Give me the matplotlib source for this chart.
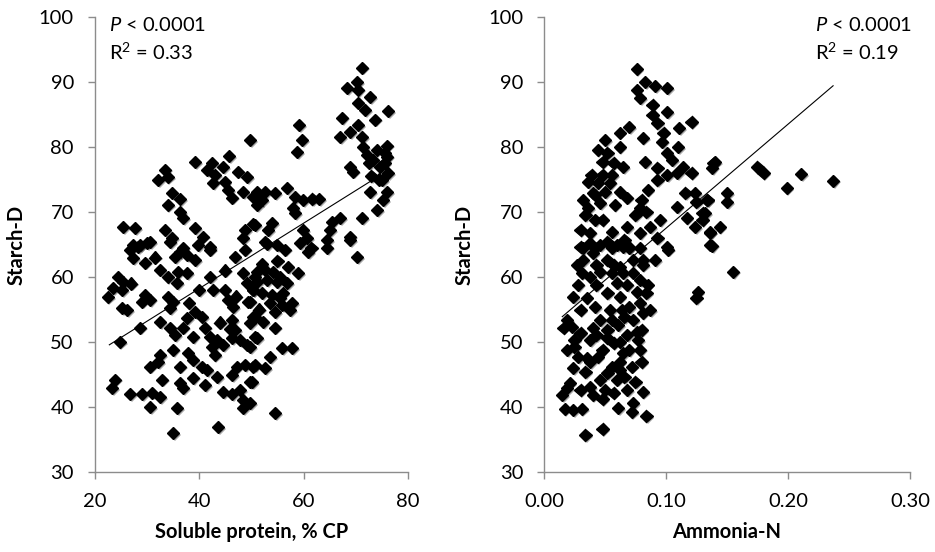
import matplotlib
matplotlib.use("Agg")
import matplotlib.pyplot as plt
import matplotlib.patheffects as pe

plt.rcParams['font.family'] = ['Lato', 'DejaVu Sans']
plt.rcParams['mathtext.fontset'] = 'custom'
plt.rcParams['mathtext.rm'] = 'Lato'
plt.rcParams['mathtext.it'] = 'Lato:italic'
plt.rcParams['mathtext.bf'] = 'Lato:bold'

# Panel izquierdo: proteina soluble (% CP) vs Starch-D
prot_x = [
    49.8, 39.2, 45.7, 42.5, 41.5, 43.0, 44.6, 47.5, 49.2, 42.7, 44.9, 45.5, 46.3, 48.4, 50.3, 51.1,
    33.5, 32.1, 34.0, 34.8, 36.3, 34.0, 36.3, 36.9, 39.2, 40.7, 25.4, 27.7, 33.5, 34.8, 48.8, 48.4,
    50.3, 27.3, 28.7, 30.6, 42.1, 36.9,
    26.8, 28.3, 30.0, 27.3, 34.4, 36.3, 35.4, 37.7, 39.2, 39.8, 42.1, 46.9, 48.8, 29.6, 32.5, 34.0,
    36.0, 37.7, 35.8, 42.1, 24.5, 25.4, 23.5, 25.2, 22.5, 29.6, 30.6, 29.1, 34.0, 35.0, 34.4, 25.2,
    26.2, 42.7, 44.9, 45.5, 46.5, 48.4, 49.2, 50.3, 49.4, 50.7, 28.7, 24.8, 32.5, 34.4, 35.4, 36.9,
    37.7, 39.2, 40.6, 38.8, 41.1, 42.1, 42.5, 43.4, 43.0, 44.6, 46.3, 46.9, 46.3, 47.8, 49.2, 50.7,
    49.8, 50.7, 32.5, 32.1, 30.6, 35.0, 36.3, 37.9, 38.8, 40.6, 41.5, 43.4, 38.8, 41.1, 36.3, 36.9,
    32.9, 23.9, 23.3, 26.8, 29.1, 31.0, 32.5, 30.6, 35.8, 44.6, 46.3, 47.8, 46.3, 49.8, 47.3, 48.8,
    50.3, 48.4, 48.4, 35.0, 43.6,
    71.2, 68.3, 70.3, 70.4, 72.7, 76.2, 70.4, 71.8, 73.7, 67.4, 70.4, 68.9, 67.0, 71.2, 71.4, 76.0,
    75.6, 72.2, 73.3, 74.7, 76.2, 75.0, 68.9, 69.5, 72.7, 76.0, 75.2, 74.1, 71.2, 59.1, 59.7, 58.8,
    56.8, 51.1, 52.6, 54.5, 52.1, 58.4, 59.9, 61.7, 58.0, 58.4, 50.7, 54.0, 53.2, 52.6, 54.9, 59.9,
    60.7, 65.5, 67.0, 65.1, 68.9, 64.5,
    53.0, 56.5, 59.3, 60.9, 64.5, 68.9, 70.3, 51.1, 52.6, 54.2, 55.5, 56.8, 58.9, 51.1, 53.0, 54.9,
    50.3, 52.1, 54.0, 55.5, 57.8, 55.9, 57.4, 54.5, 49.8, 50.3, 52.3, 54.5, 51.1, 49.8, 55.9, 57.8,
    53.6, 50.7, 52.6, 50.1, 54.5, 49.8,
    72.5, 74.0, 75.5, 76.0, 74.5, 73.0, 52.0, 55.0, 57.0, 53.5, 56.0, 51.5, 46.0, 44.0, 38.0, 40.0,
    47.0, 45.0, 31.5, 27.0, 61.5, 63.0,
]
prot_y = [
    81.1, 77.7, 78.6, 77.5, 76.5, 75.7, 76.9, 76.2, 75.4, 74.5, 74.6, 73.4, 72.2, 73.1, 72.3, 71.1,
    76.5, 74.9, 75.4, 72.9, 72.0, 71.1, 70.0, 69.1, 67.5, 66.2, 67.7, 67.5, 67.2, 66.0, 67.2, 66.0,
    68.2, 64.9, 64.9, 65.4, 64.6, 64.5,
    64.2, 64.6, 65.2, 62.9, 65.4, 63.8, 63.1, 63.4, 62.6, 64.9, 64.2, 63.1, 64.2, 62.2, 61.1, 60.0,
    60.8, 60.6, 59.1, 60.0, 60.0, 59.2, 58.3, 58.0, 56.9, 57.2, 56.5, 56.2, 56.9, 56.2, 55.2, 55.2,
    54.9, 58.0, 58.0, 56.5, 55.4, 60.6, 59.1, 58.0, 56.2, 60.0, 52.2, 50.0, 53.1, 52.2, 51.1, 52.2,
    53.7, 54.6, 53.8, 50.8, 52.2, 50.8, 49.2, 50.3, 48.0, 49.5, 53.4, 51.8, 50.6, 50.3, 49.5, 50.8,
    52.9, 53.8, 48.0, 46.9, 46.2, 48.8, 46.2, 48.3, 47.2, 46.2, 45.7, 44.6, 44.5, 43.4, 43.7, 42.9,
    44.2, 44.2, 42.9, 42.0, 42.0, 42.2, 41.5, 40.0, 39.8, 42.3, 42.0, 42.6, 44.9, 43.8, 46.2, 46.5,
    46.2, 41.1, 39.8, 36.0, 36.9,
    92.2, 89.1, 90.0, 88.8, 87.7, 85.5, 86.8, 85.7, 84.2, 84.5, 83.4, 82.3, 81.5, 81.5, 80.0, 80.2,
    79.1, 78.8, 78.0, 76.9, 76.0, 74.9, 76.9, 76.2, 73.1, 73.1, 71.8, 70.3, 69.1, 83.4, 81.1, 79.2,
    73.7, 73.1, 73.1, 72.9, 71.8, 72.3, 71.8, 72.0, 70.6, 69.8, 68.0, 68.3, 67.2, 65.4, 64.9, 67.2,
    66.0, 68.5, 69.1, 67.2, 66.2, 65.7,
    65.1, 64.2, 65.2, 63.8, 64.5, 65.7, 63.1, 60.8, 61.1, 60.8, 60.0, 59.1, 60.6, 59.2, 59.5, 59.2,
    58.0, 57.5, 57.2, 56.8, 56.0, 55.7, 54.9, 54.6, 56.2, 53.8, 53.1, 52.2, 50.6, 49.2, 49.1, 49.1,
    47.7, 46.5, 46.0, 43.8, 39.1, 40.6,
    77.5, 79.5, 77.5, 78.5, 75.0, 75.5, 62.0, 62.5, 61.5, 56.0, 57.5, 55.0, 52.0, 53.0, 56.0, 58.0,
    57.0, 61.0, 63.0, 59.0, 64.5, 72.0,
]

# Panel derecho: Ammonia-N vs Starch-D
amon_x = [
    0.076, 0.083, 0.091, 0.101, 0.076, 0.079, 0.089, 0.101, 0.089, 0.093, 0.121, 0.111, 0.070, 0.062,
    0.050, 0.081, 0.098, 0.097, 0.110, 0.062, 0.052, 0.101, 0.105, 0.083, 0.048, 0.057, 0.065, 0.093,
    0.114, 0.121, 0.139, 0.109, 0.101, 0.093, 0.039, 0.048, 0.044, 0.036, 0.054, 0.050, 0.040, 0.062,
    0.068, 0.085, 0.080, 0.032, 0.036, 0.046, 0.079, 0.084, 0.109, 0.116, 0.124, 0.125, 0.134, 0.117,
    0.124, 0.130, 0.136, 0.042, 0.030, 0.038, 0.056, 0.068, 0.087, 0.095, 0.079, 0.093, 0.030, 0.046,
    0.060, 0.070, 0.136, 0.101,
    0.138, 0.126, 0.125, 0.102, 0.091, 0.081, 0.034, 0.048, 0.084, 0.072, 0.061, 0.073, 0.081, 0.075,
    0.057, 0.048, 0.017, 0.024, 0.031, 0.015, 0.021, 0.038, 0.040, 0.024, 0.034, 0.028, 0.035, 0.044,
    0.056, 0.062, 0.072, 0.065, 0.057, 0.025, 0.025, 0.038, 0.052, 0.062, 0.070, 0.077, 0.080, 0.076,
    0.016, 0.023, 0.030, 0.040, 0.052, 0.061, 0.046, 0.066, 0.081, 0.024, 0.035, 0.042, 0.054, 0.070,
    0.079, 0.084, 0.076, 0.062, 0.052, 0.031, 0.038, 0.046, 0.056, 0.065, 0.073, 0.079, 0.060, 0.032,
    0.040, 0.052, 0.062, 0.073, 0.038, 0.052, 0.065, 0.046, 0.060, 0.066, 0.052, 0.019,
    0.140, 0.138, 0.175, 0.180, 0.211, 0.199, 0.237, 0.150, 0.150, 0.134, 0.132, 0.130, 0.144, 0.136,
    0.155,
    0.032, 0.042, 0.056, 0.070, 0.079, 0.027, 0.043, 0.057, 0.081, 0.028, 0.043, 0.068, 0.085, 0.030,
    0.064, 0.087, 0.019, 0.056, 0.073, 0.043, 0.068, 0.019, 0.048, 0.079, 0.038, 0.062, 0.080, 0.030,
    0.068, 0.050, 0.044, 0.056, 0.042, 0.058, 0.034, 0.048, 0.075, 0.066,
]
amon_y = [
    92.0, 90.0, 89.4, 89.1, 88.8, 87.5, 86.5, 85.4, 84.9, 83.7, 83.8, 82.9, 83.1, 82.2,
    81.1, 81.4, 82.2, 80.8, 80.0, 80.0, 79.1, 79.1, 78.0, 77.7, 77.7, 77.5, 76.9, 76.8,
    76.9, 76.0, 77.5, 76.0, 75.7, 74.9, 75.7, 75.7, 74.5, 74.6, 74.5, 73.1, 72.9, 73.1,
    72.2, 73.4, 71.8, 71.8, 70.6, 71.4, 70.6, 70.0, 70.8, 72.9, 72.9, 71.5, 71.8, 69.1,
    67.7, 69.8, 66.9, 68.8, 67.2, 66.8, 66.9, 67.7, 67.7, 68.8, 66.8, 66.0, 64.6, 64.9,
    64.9, 64.6, 64.9, 64.6,
    64.8, 57.7, 56.8, 64.2, 62.6, 62.6, 35.7, 36.6, 38.6, 39.2, 39.8, 40.6, 42.3, 43.8,
    42.2, 41.2, 39.7, 39.5, 39.7, 41.8, 43.7, 43.1, 41.8, 46.0, 45.4, 47.7, 47.5, 47.7,
    46.2, 45.7, 46.2, 48.3, 49.8, 49.2, 50.3, 50.3, 50.6, 50.0, 48.8, 50.3, 51.8, 51.5,
    52.2, 52.3, 51.4, 52.2, 51.8, 52.6, 53.4, 53.8, 54.5, 56.9, 56.8, 55.4, 54.9, 55.4,
    56.0, 57.5, 57.7, 56.9, 57.5, 60.6, 60.0, 60.8, 60.6, 60.6, 60.6, 59.5, 59.1, 62.6,
    63.7, 62.6, 61.5, 62.6, 65.2, 65.4, 64.6, 44.2, 44.2, 44.6, 45.2, 42.9,
    77.7, 76.8, 76.9, 76.0, 75.8, 73.7, 74.8, 72.9, 71.5, 71.8, 69.8, 68.8, 67.7, 66.8,
    60.8,
    64.5, 64.5, 64.5, 64.5, 64.5, 61.8, 61.8, 61.8, 61.8, 58.8, 58.8, 58.8, 58.8, 54.9,
    54.9, 54.9, 53.4, 53.4, 53.4, 51.1, 51.1, 48.8, 48.8, 48.8, 46.9, 46.9, 46.9, 42.6,
    42.6, 42.6, 79.5, 75.7, 72.6, 71.1, 69.5, 68.8, 69.5, 65.7,
]

# Rectas de tendencia (pendiente, ordenada, rango x)
prot_trend_x = [22.8, 73.7]
prot_slope, prot_icpt = 0.503, 38.1
amon_trend_x = [0.015, 0.237]
amon_slope, amon_icpt = 160.0, 51.5

y_ticks = [30, 40, 50, 60, 70, 80, 90, 100]

fig = plt.figure(figsize=(9.35, 5.52), dpi=100)
ax1 = fig.add_axes([0.1013, 0.1449, 0.3351, 0.8243])
ax2 = fig.add_axes([0.5818, 0.1449, 0.3914, 0.8243])

sombra = [pe.SimplePatchShadow(offset=(1.2, -1.2), alpha=0.35), pe.Normal()]

def estilo(ax):
    for s in ['top', 'right']:
        ax.spines[s].set_visible(False)
    for s in ['left', 'bottom']:
        ax.spines[s].set_color('#8c8c8c')
        ax.spines[s].set_linewidth(1.0)
    ax.tick_params(axis='both', direction='out', length=5, width=1.0,
                   color='#8c8c8c', labelsize=14.5, labelcolor='black', pad=10)
    ax.set_ylim(30, 100)
    ax.set_yticks(y_ticks)
    ax.set_ylabel('Starch-D', fontsize=14.5, fontweight='bold')

# Izquierda
ax1.plot(prot_x, prot_y, linestyle='none', marker='D', markersize=6.2,
         color='black', path_effects=sombra, zorder=3)
ax1.plot(prot_trend_x, [prot_slope * v + prot_icpt for v in prot_trend_x],
         color='black', linewidth=0.8, zorder=2)
estilo(ax1)
ax1.set_xlim(20, 80)
ax1.set_xticks([20, 40, 60, 80])
ax1.set_xlabel('Soluble protein, % CP', fontsize=14.5, fontweight='bold', labelpad=9)
ax1.yaxis.set_label_coords(-0.216, 0.5)
ax1.text(0.046, 0.982, r'$\it{P}$ < 0.0001', transform=ax1.transAxes,
         fontsize=14.5, va='center', ha='left')
ax1.text(0.046, 0.923, r'R$^2$ = 0.33', transform=ax1.transAxes,
         fontsize=14.5, va='center', ha='left')

# Derecha
ax2.plot(amon_x, amon_y, linestyle='none', marker='D', markersize=6.2,
         color='black', path_effects=sombra, zorder=3)
ax2.plot(amon_trend_x, [amon_slope * v + amon_icpt for v in amon_trend_x],
         color='black', linewidth=0.8, zorder=2)
estilo(ax2)
ax2.set_xlim(0, 0.30)
ax2.set_xticks([0.0, 0.1, 0.2, 0.3])
ax2.set_xticklabels(['0.00', '0.10', '0.20', '0.30'])
ax2.set_xlabel('Ammonia-N', fontsize=14.5, fontweight='bold', labelpad=9)
ax2.yaxis.set_label_coords(-0.189, 0.5)
ax2.text(0.740, 0.982, r'$\it{P}$ < 0.0001', transform=ax2.transAxes,
         fontsize=14.5, va='center', ha='left')
ax2.text(0.740, 0.923, r'R$^2$ = 0.19', transform=ax2.transAxes,
         fontsize=14.5, va='center', ha='left')

fig.savefig('out.png', dpi=100)
